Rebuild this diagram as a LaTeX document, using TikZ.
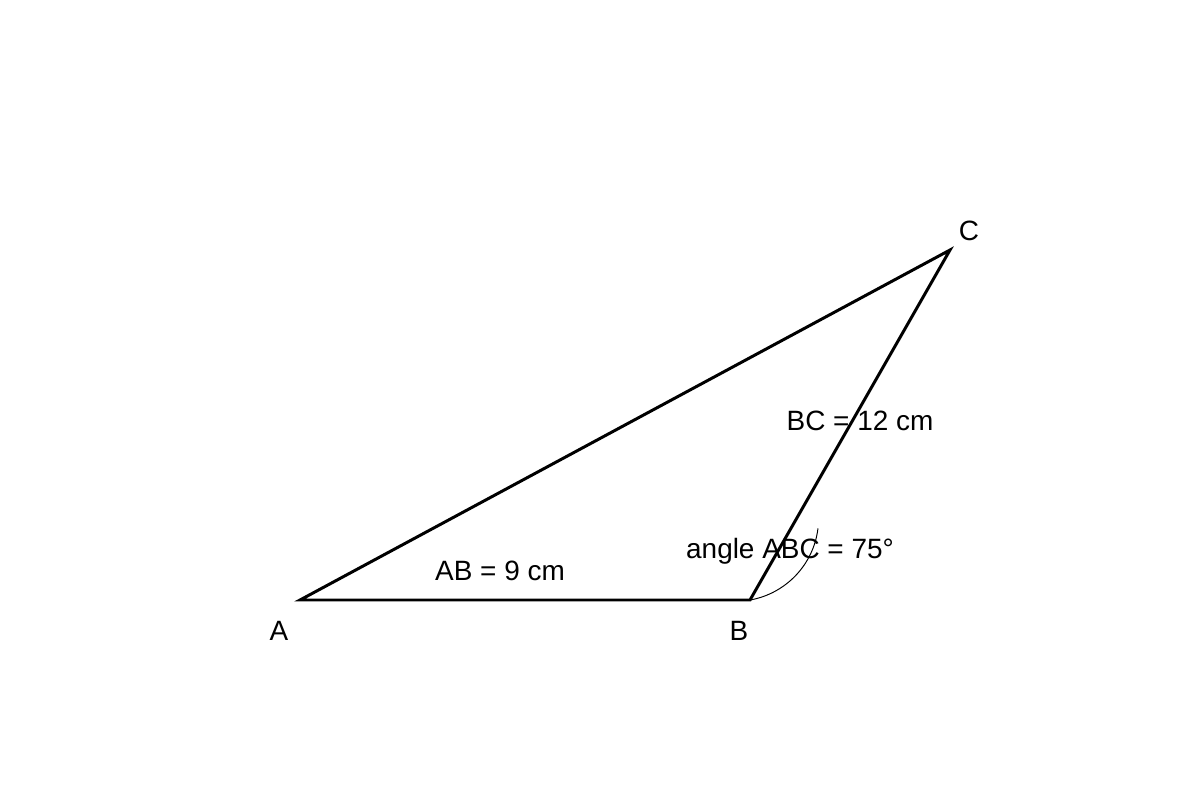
\documentclass[tikz,border=0pt]{standalone}
\usepackage{fontspec}
\setmainfont{Liberation Sans}
\begin{document}
\begin{tikzpicture}[x=0.02cm,y=-0.02cm,
  side/.style={line width=1.7pt, line join=miter},
  lbl/.style={font=\fontsize{15.9}{19}\selectfont, inner sep=0pt},
  pt/.style={inner sep=0pt}]
\useasboundingbox (0,0) rectangle (1200,800);
\coordinate (A) at (300,600);
\coordinate (B) at (750,600);
\coordinate (C) at (950,250);
\draw[side] (A) -- (B) -- (C) -- cycle;
\draw[line width=0.55pt] (B) arc[start angle=80, end angle=7, radius=83];
\node[lbl] (la) at (279,631) {A};
\node[lbl] (lb) at (739,631) {B};
\node[lbl] (lc) at (969,231) {C};
\node[lbl] (ab) at (500,571) {AB = 9 cm};
\node[lbl] (bc) at (860,421) {BC = 12 cm};
\node[lbl] (ang) at (790,551) {angle ABC = 75°};
\end{tikzpicture}
\end{document}
